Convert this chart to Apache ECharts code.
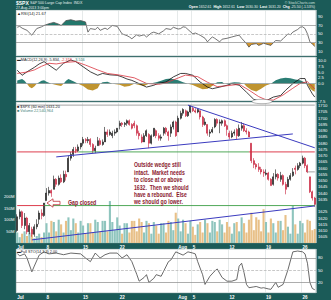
<!DOCTYPE html>
<html><head><meta charset="utf-8">
<script src="https://cdn.jsdelivr.net/npm/echarts@6/dist/echarts.min.js"></script>
<style>html,body{margin:0;padding:0;background:#1b5b58;}#c{width:331px;height:300px;}</style>
</head><body><div id="c"></div>
<script>
// ---------------- DATA ----------------
const days = ['Jul 1','Jul 2','Jul 3','Jul 5','Jul 8','Jul 9','Jul 10','Jul 11','Jul 12','Jul 15','Jul 16','Jul 17','Jul 18','Jul 19','Jul 22','Jul 23','Jul 24','Jul 25','Jul 26','Jul 29','Jul 30','Jul 31','Aug 1','Aug 2','Aug 5','Aug 6','Aug 7','Aug 8','Aug 9','Aug 12','Aug 13','Aug 14','Aug 15','Aug 16','Aug 19','Aug 20','Aug 21','Aug 22','Aug 23','Aug 26','Aug 27'];
const sessions = ['AM','MD','PM'];
const tickLabels = {'Jul 1':'Jul','Jul 8':'8','Jul 15':'15','Jul 22':'22','Aug 1':'Aug','Aug 5':'5','Aug 12':'12','Aug 19':'19','Aug 26':'26'};

// [open, close, low, high] per bar (3 bars per day)
const candles = [
[1610,1621,1609,1623],[1621,1625,1619,1627],[1625,1614,1612,1626],
[1614,1620,1611,1624],[1620,1609,1607,1621],[1609,1614,1607,1616],
[1611,1607,1605,1613],[1607,1613,1605,1615],[1613,1615,1611,1619],
[1619,1624,1615,1626],[1624,1622,1619,1627],[1622,1632,1621,1632],
[1634,1640,1634,1644],[1640,1642,1638,1645],[1642,1640,1637,1643],
[1643,1651,1643,1654],[1651,1647,1645,1652],[1647,1652,1646,1654],
[1652,1649,1648,1655],[1649,1655,1648,1658],[1655,1653,1650,1658],
[1657,1668,1657,1670],[1668,1671,1666,1673],[1671,1675,1669,1677],
[1675,1674,1672,1677],[1674,1677,1673,1679],[1677,1680,1675,1680],
[1680,1683,1678,1685],[1683,1682,1680,1684],[1682,1683,1680,1685],
[1683,1679,1677,1684],[1679,1674,1672,1680],[1674,1676,1672,1678],
[1678,1682,1678,1685],[1682,1679,1678,1684],[1679,1681,1678,1683],
[1681,1689,1681,1693],[1689,1687,1685,1691],[1687,1689,1686,1691],
[1686,1688,1684,1690],[1688,1689,1686,1691],[1689,1692,1688,1692],
[1694,1696,1691,1698],[1696,1695,1693,1697],[1695,1696,1693,1697],
[1696,1698,1694,1699],[1698,1695,1694,1699],[1695,1692,1691,1696],
[1696,1694,1692,1698],[1694,1688,1686,1695],[1688,1686,1683,1690],
[1685,1681,1680,1687],[1681,1686,1681,1688],[1686,1690,1685,1691],
[1687,1680,1676,1688],[1680,1686,1679,1687],[1686,1692,1685,1692],
[1690,1686,1684,1691],[1686,1684,1682,1688],[1684,1685,1682,1687],
[1688,1692,1686,1693],[1692,1689,1687,1693],[1689,1686,1682,1690],
[1688,1693,1685,1695],[1693,1697,1691,1698],[1697,1686,1685,1698],
[1689,1700,1689,1702],[1700,1704,1699,1706],[1704,1707,1702,1708],
[1706,1702,1701,1707],[1702,1705,1701,1706],[1705,1710,1704,1710],
[1708,1706,1705,1709],[1706,1705,1704,1708],[1705,1707,1704,1708],
[1706,1701,1699,1706],[1701,1695,1693,1702],[1695,1697,1694,1700],
[1695,1688,1686,1695],[1688,1689,1685,1691],[1689,1691,1688,1693],
[1693,1699,1692,1700],[1699,1696,1694,1700],[1696,1697,1688,1699],
[1696,1698,1694,1699],[1698,1694,1693,1699],[1694,1691,1686,1695],
[1688,1685,1683,1690],[1685,1688,1684,1690],[1688,1689,1686,1691],
[1691,1686,1683,1692],[1686,1692,1685,1695],[1692,1694,1690,1697],
[1694,1690,1689,1696],[1690,1689,1687,1692],[1689,1685,1685,1690],
[1680,1666,1664,1680],[1666,1663,1660,1668],[1663,1661,1659,1664],
[1661,1659,1657,1664],[1659,1657,1655,1661],[1657,1656,1653,1659],
[1655,1656,1654,1659],[1656,1651,1650,1657],[1651,1646,1646,1652],
[1647,1653,1646,1656],[1653,1655,1651,1659],[1655,1652,1650,1656],
[1651,1654,1649,1657],[1654,1647,1646,1655],[1647,1643,1639,1649],
[1645,1651,1645,1653],[1651,1654,1650,1656],[1654,1657,1653,1660],
[1660,1659,1655,1662],[1659,1662,1658,1664],[1662,1664,1660,1665],
[1664,1668,1663,1670],[1668,1662,1660,1669],[1662,1657,1656,1663],
[1653,1641,1640,1653],[1641,1636,1634,1642],[1636,1631,1629,1637]
];
// volume in millions, per bar
const volumes = [
45,25,40, 50,30,45, 35,20,30, 40,25,45, 85,45,95, 90,50,100, 80,45,95, 110,55,105, 85,45,95, 75,40,85,
85,45,100, 90,50,95, 95,50,180, 90,55,110, 75,40,85, 85,45,95, 95,50,105, 90,45,95, 85,40,90, 75,40,85,
85,45,95, 90,55,130, 105,50,100, 85,40,95, 70,35,80, 90,45,100, 85,45,95, 90,50,100, 80,45,90, 70,40,85,
90,50,110, 85,45,100, 130,55,110, 100,50,145, 90,45,105, 85,45,95, 95,55,120, 70,40,160, 80,40,95, 85,45,100,
95,55,60
];
// indicator points: [barIndex, value]
const rsi = [[0,65],[1,67],[2,63],[4,58],[6,47],[8,62],[10,66],[11,69],[13,73],[15,76],[17,72],[18,69],[20,80],[22,82],[24,79],[26,80],[28,77],[29,54],[30,62],[32,60],[33,65],[34,58],[36,63],[37,60],[39,69],[41,67],[43,50],[45,46],[46,43],[47,39],[49,48],[50,45],[52,48],[53,43],[55,52],[56,54],[58,50],[60,57],[61,62],[63,60],[64,65],[66,61],[67,62],[68,66],[69,65],[70,60],[72,50],[73,52],[75,47],[77,40],[78,32],[79,38],[80,43],[81,40],[83,32],[84,38],[86,40],[88,43],[90,46],[91,47],[92,40],[94,28],[95,20],[96,26],[98,28],[99,24],[100,26],[101,29],[102,27],[104,24],[105,30],[106,35],[108,34],[109,39],[111,50],[112,48],[113,54],[115,60],[116,65],[117,66],[118,62],[119,50],[120,32],[121,27],[122,21.67]];
const macd = [[0,5.8],[2,3.6],[4,5.1],[7,7.0],[9,8.5],[11,9.5],[13,8.0],[16,5.8],[19,8.8],[22,10.2],[24,9.5],[27,7.3],[30,5.1],[33,3.6],[35,4.4],[38,3.8],[41,3.6],[43,2.9],[45,2.0],[47,1.4],[50,0],[53,-1.5],[56,-0.7],[58,0.2],[61,0.7],[64,2.9],[67,4.4],[69,4.4],[72,3.6],[75,0.7],[78,-1.5],[80,-2.2],[83,-1.5],[86,-0.7],[88,0],[91,-0.7],[94,-3.7],[97,-6.8],[99,-7.4],[102,-7.4],[105,-5.8],[108,-5.1],[110,-2.9],[113,0],[116,2.2],[118,2.2],[119,-0.7],[121,-4.4],[122,-5.8]];
const signal = [[0,4.4],[4,5.0],[7,5.9],[10,7.5],[13,8.8],[16,8.5],[20,9.2],[24,9.5],[28,8.0],[33,5.9],[37,4.4],[42,3.7],[48,2.5],[53,0.1],[58,-0.3],[61,0.3],[64,1.6],[69,3.7],[74,3.0],[78,0.6],[82,-1.3],[86,-0.9],[91,-0.3],[95,-2.8],[99,-5.6],[102,-7.0],[105,-7.1],[109,-4.9],[113,-2.0],[116,0.1],[119,0.8],[121,-1.2],[122,-2.3]];
const hist = [[0,1.4],[2,2.0],[3,1.2],[4,0],[5,-1.5],[6,-2.0],[7,-1.2],[8,0],[10,1.2],[11,1.5],[12,0.8],[14,0],[16,-0.6],[18,-1.0],[19,0],[20,1.2],[21,2.0],[23,1.0],[25,0],[27,-1.0],[29,-2.5],[31,-3.0],[33,-2.0],[34,0],[35,0.6],[37,0.8],[39,0],[42,-0.5],[44,-1.4],[46,-1.0],[48,0],[50,-0.6],[52,-1.0],[54,0],[57,0.6],[59,1.2],[61,2.0],[63,2.2],[66,1.5],[68,0.6],[70,0],[72,-0.6],[74,-1.6],[76,-2.4],[78,-2.2],[80,-1.0],[81,0],[82,0.6],[84,0.7],[85,0],[87,0.3],[89,0.6],[91,0.5],[93,0],[94,-1.2],[96,-2.8],[98,-3.4],[100,-2.2],[102,-0.8],[104,0],[106,1.5],[108,2.2],[110,2.5],[112,2.3],[114,1.8],[116,1.5],[118,0.5],[119,0],[120,-2.0],[121,-3.0],[122,-3.5]];
const stoch = [[0,91],[1,85],[3,90],[4,80],[6,46],[7,60],[9,87],[11,95],[13,90],[16,92],[19,88],[22,92],[26,90],[28,80],[30,71],[32,92],[34,80],[36,88],[38,92],[41,92],[43,80],[45,88],[47,71],[49,40],[50,23],[52,32],[53,39],[54,20],[56,30],[57,39],[59,35],[60,47],[62,71],[63,75],[65,95],[68,87],[70,95],[72,92],[73,90],[74,71],[76,39],[77,15],[79,35],[81,48],[82,53],[84,32],[86,23],[88,23],[90,27],[91,60],[92,67],[93,44],[94,15],[95,7],[97,9],[98,10],[100,6],[101,7],[103,4],[104,3],[106,20],[107,8],[109,15],[111,51],[113,95],[115,97],[117,95],[118,90],[119,67],[120,20],[121,5],[122,2]];
// trend lines: [fromBar, fromPrice, toBar, toPrice]
const trendLines = [[70,1710.5,122,1676.3],[16,1669,113,1687.4],[6,1602.5,122,1629.7]];
// horizontal levels: [price, fromBar, toBar]
const levelLines = [[1673,0,25],[1673,25,95],[1673,95,122],[1630,0,11],[1630,11,122],[1710.5,0,122],[1657,119,122]];
const lastClose = 1631.2, lastRsi = 21.67, lastMacd = -5.8, lastSignal = -2.3, lastStoch = 2.0;

// ---------------- STYLE ----------------
const FONT = 'Liberation Sans, Arial, sans-serif';
const levelColors = ['#d9283a','#3d9e46','#d9283a','#d9283a','#3d9e46','#9a9a9a','#9a9a9a'];
const categories = days.flatMap(d => sessions.map(s => d + ' ' + s));
const tickOf = v => { const d = v.slice(0, v.lastIndexOf(' ')); return (v.endsWith(' AM') && tickLabels[d]) ? tickLabels[d] : null; };

const xAx = (gi, showLabel) => ({
  type:'category', gridIndex: gi, data: categories, boundaryGap: true,
  axisLine:{show:false}, axisTick:{show:false},
  axisLabel:{show: showLabel, interval:(i,v)=>!!tickOf(v), formatter:v=>tickOf(v)||'', color:'#fff', fontSize:4.5, fontWeight:'bold', fontFamily:FONT, align:'left', margin:2},
  splitLine:{show:true, interval:(i,v)=>!!tickOf(v), lineStyle:{color:'#d5dcdc', width:0.6}}
});
const yAx = (gi, min, max, interval, fmt, pos) => ({
  type:'value', gridIndex: gi, position: pos||'right', min, max, interval,
  axisLine:{show:false}, axisTick:{show:false}, splitLine:{show:false},
  axisLabel:{formatter: fmt, color:'#fff', fontSize:4.2, fontFamily:FONT, margin: pos==='left'?1.5:2}
});
const hline = (v, color, type) => ({yAxis: v, lineStyle:{color, width:0.7, type: type||'solid'}, label:{show:false}});
const box = (v, text, bg, fg) => ({yAxis: v, lineStyle:{opacity:0}, label:{show:true, position:'end', formatter:text, backgroundColor:bg, color:fg, fontSize:4, fontFamily:FONT, padding:[0.5,1], distance:1}});
const mk = (data) => ({silent:true, symbol:['none','none'], data});
const T = (x, y, text, size, color, weight, extra, el) => Object.assign({type:'text', x, y, z:100, silent:true, style:Object.assign({text, fill:color, fontSize:size, fontWeight:weight||'normal', fontFamily:FONT, align:'left', verticalAlign:'top'}, extra||{})}, el||{});

const series = [
  {type:'line', xAxisIndex:0, yAxisIndex:0, data:rsi, showSymbol:false, silent:true, lineStyle:{width:0}, areaStyle:{opacity:1, origin:'start'}, z:1},
  {type:'line', xAxisIndex:0, yAxisIndex:0, data:rsi, showSymbol:false, silent:true, lineStyle:{width:0}, areaStyle:{opacity:1, origin:'end'}, z:1},
  {type:'line', xAxisIndex:0, yAxisIndex:0, data:rsi, showSymbol:false, silent:true, color:'#505050', lineStyle:{width:0.8}, z:3,
    markLine: mk([hline(70,'#8a8a8a'), hline(30,'#8a8a8a'), hline(50,'#b0b0b0','dashed'), box(lastRsi, '21.67', '#fff', '#222')])},
  {type:'line', xAxisIndex:1, yAxisIndex:1, data:hist, showSymbol:false, silent:true, lineStyle:{width:0}, areaStyle:{opacity:1, origin:'auto'}, z:1},
  {type:'line', xAxisIndex:1, yAxisIndex:1, data:macd, showSymbol:false, silent:true, color:'#111', lineStyle:{width:0.8}, z:3,
    markLine: mk([hline(0,'#9a9a9a'), box(lastMacd,'-5.80','#fff','#111')])},
  {type:'line', xAxisIndex:1, yAxisIndex:1, data:signal, showSymbol:false, silent:true, color:'#d9343f', lineStyle:{width:0.8}, z:3,
    markLine: mk([box(lastSignal,'-2.30','#fff','#c62833')])},
  {type:'bar', xAxisIndex:2, yAxisIndex:3, data:volumes, barWidth:2.1, silent:true, z:1,
    itemStyle:{color:p => candles[p.dataIndex][1] >= candles[p.dataIndex][0] ? '#8fc5be' : '#e8c088'}},
  {type:'candlestick', xAxisIndex:2, yAxisIndex:2, data:candles, barWidth:1.5, silent:true, z:3,
    itemStyle:{color:'#1a1a1a', color0:'#c8203a', borderColor:'#1a1a1a', borderColor0:'#c8203a', borderWidth:0.6},
    markLine: mk([box(lastClose,'1631.20','#fff','#111')])},
];
levelLines.forEach((l, i) => series.push({type:'line', xAxisIndex:2, yAxisIndex:2, data:[[l[1],l[0]],[l[2],l[0]]], showSymbol:false, silent:true, color:levelColors[i], lineStyle:{width:0.9}, z:4}));
trendLines.forEach(t => series.push({type:'line', xAxisIndex:2, yAxisIndex:2, data:[[t[0],t[1]],[t[2],t[3]]], showSymbol:false, silent:true, color:'#3b3bbf', lineStyle:{width:1}, z:5}));
series.push({type:'line', xAxisIndex:3, yAxisIndex:4, data:stoch, showSymbol:false, silent:true, color:'#444', lineStyle:{width:0.8}, z:3,
  markLine: mk([hline(80,'#8a8a8a'), hline(20,'#8a8a8a'), hline(50,'#b0b0b0','dashed'), box(lastStoch,'2.00','#fff','#222')])});

const note = 'Outside wedge still\nintact.  Market needs\nto close at or above\n1632.  Then we should\nhave a rebound.  Else\nwe should go lower.';

const option = {
  animation:false,
  backgroundColor:'#1b5b58',
  grid:[
    {left:16, right:15, top:10, height:46, show:true, backgroundColor:'#fff', borderColor:'#6f8f8d', borderWidth:0.5},
    {left:16, right:15, top:57, height:44, show:true, backgroundColor:'#fff', borderColor:'#6f8f8d', borderWidth:0.5},
    {left:16, right:15, top:102, height:141, show:true, backgroundColor:'#fff', borderColor:'#6f8f8d', borderWidth:0.5},
    {left:16, right:15, top:249, height:45, show:true, backgroundColor:'#fff', borderColor:'#6f8f8d', borderWidth:0.5},
  ],
  xAxis:[xAx(0,false), xAx(1,false), xAx(2,true), xAx(3,true)],
  yAxis:[
    yAx(0, 0, 104, 10, v => [10,30,50,70,90].includes(v) ? String(v) : ''),
    yAx(1, -7.5, 11.5, 2.5, v => (v <= 10 && v !== -2.5 && v !== -5 && Math.abs(v/2.5 - Math.round(v/2.5)) < 1e-6) ? v.toFixed(1) : ''),
    yAx(2, 1600, 1713, 5, v => (v > 1600 && v < 1713 && v !== 1630 && v % 5 === 0) ? String(v) : ''),
    yAx(2, 0, 605, 50, v => (v >= 50 && v <= 200) ? v + 'M' : '', 'left'),
    yAx(3, -6, 102, 2, v => [20,50,80].includes(v) ? String(v) : ''),
  ],
  visualMap:[
    {type:'piecewise', show:false, seriesIndex:0, dimension:1, pieces:[{gt:70, lte:500, color:'#23776b'},{gte:-500, lte:70, color:'rgba(255,255,255,0)'}]},
    {type:'piecewise', show:false, seriesIndex:1, dimension:1, pieces:[{gte:-500, lt:30, color:'#d3952c'},{gte:30, lte:500, color:'rgba(255,255,255,0)'}]},
    {type:'piecewise', show:false, seriesIndex:3, dimension:1, pieces:[{gt:0, lte:100, color:'#2b7d74'},{gte:-100, lte:0, color:'#bf9430'}]},
  ],
  series,
  graphic:[
    T(16, 0.3, '$SPX', 5, '#fff', 'bold'),
    T(30, 1.2, 'S&P 500 Large Cap Index  INDX', 3.6, '#e8f0ef'),
    T(16, 5.6, '27-Aug-2013 3:00pm', 3.5, '#e8f0ef'),
    T(315, 0.8, '© StockCharts.com', 3.5, '#cfe0de', 'normal', {align:'right'}),
    T(315, 5.4, '{b|Open} 1652.61  {b|High} 1652.61  {b|Low} 1630.30  {b|Last} 1631.20  {b|Chg} -25.50 (-1.53%)', 3.5, '#e8f0ef', 'normal',
      {align:'right', rich:{b:{fontWeight:'bold', fill:'#fff', fontSize:3.6, fontFamily:FONT}}}),
    T(17, 11, '▲RSI(14) 21.67', 4, '#222'),
    T(17, 58, '{k|▬MACD(12,26,9)} {k|-5.834,} {r|-2.318,} {g|-3.516}', 3.8, '#222', 'normal',
      {rich:{k:{fill:'#222', fontSize:3.8, fontFamily:FONT}, r:{fill:'#d9343f', fontSize:3.8, fontFamily:FONT}, g:{fill:'#2b7d74', fontSize:3.8, fontFamily:FONT}}}),
    T(17, 104.5, '■ $SPX (60 min) 1631.20', 3.8, '#222'),
    T(17, 109, '■ Volume 22,540,964', 3.8, '#3f7f78'),
    T(17, 250, '▬Full STO(14,3,3) 2.00', 3.8, '#222'),
    {type:'ellipse', z:90, silent:true, shape:{cx:262, cy:101.5, rx:10, ry:2.2}, style:{fill:'#fff', stroke:'#666', lineWidth:0.5}},
    T(134, 161.5, note, 6.6, '#8b1a2e', 'bold', {lineHeight:7.4}, {scaleX:0.78}),
    T(68, 199.5, 'Gap closed', 6.4, '#8b1a2e', 'bold', {}, {scaleX:0.82}),
    {type:'polygon', z:95, silent:true, shape:{points:[[47,203],[53,198.8],[53,201.3],[60,201.3],[60,204.7],[53,204.7],[53,207.2]]}, style:{fill:'#fff', stroke:'#c0303a', lineWidth:0.8}},
  ]
};
const chart = echarts.init(document.getElementById('c'), null, {renderer:'svg', width:331, height:300});
chart.setOption(option);
</script>
</body></html>
